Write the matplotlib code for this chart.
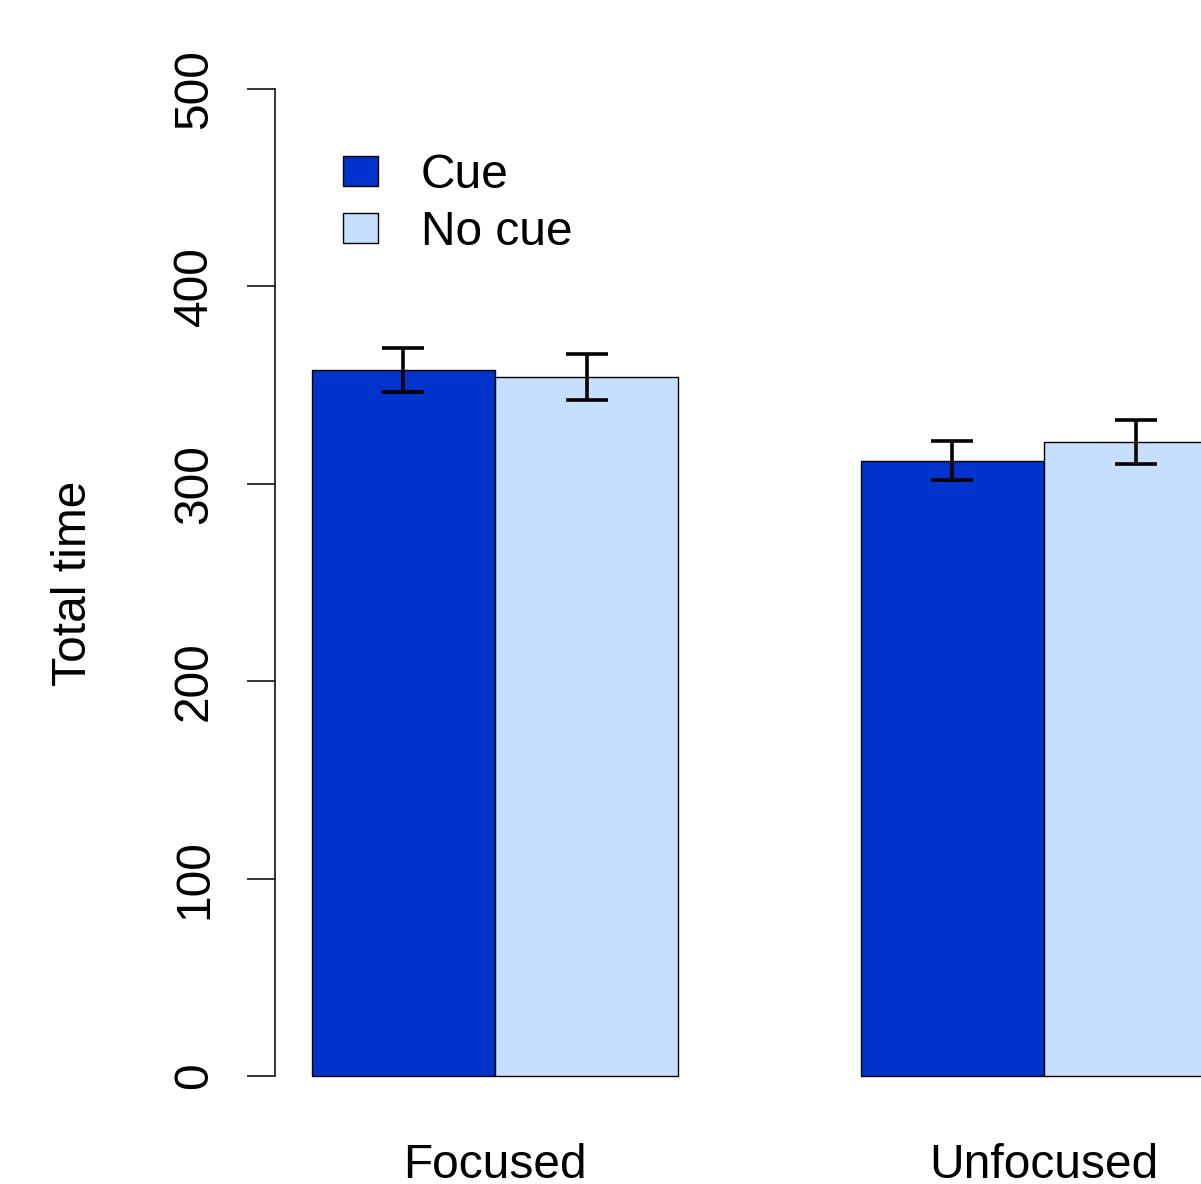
import matplotlib
matplotlib.use("Agg")
import matplotlib.pyplot as plt
from matplotlib.patches import Patch
from matplotlib.transforms import blended_transform_factory
import numpy as np

plt.rcParams['font.family'] = ['Liberation Sans', 'DejaVu Sans']

groups = ["Focused", "Unfocused"]
series = ["Cue", "No cue"]
cue_means = [357.7, 311.7]
cue_errs = [11.3, 9.8]
nocue_means = [354.1, 321.2]
nocue_errs = [11.6, 11.2]
colors = ["#0033CC", "#C5DFFC"]
yticks = [0, 100, 200, 300, 400, 500]

W, H = 1201, 1184
fig = plt.figure(figsize=(W / 100, H / 100), dpi=100)
ax = fig.add_axes([275.4 / W, 1 - 1115.5 / H, (1263.6 - 275.4) / W, (1115.5 - 49.5) / H])

fs = 34.5
# R barplot beside=TRUE, space=c(0,1): group g starts at 1 + 3*g
starts = np.array([1 + 3 * g for g in range(len(groups))], dtype=float)
for k, (means, errs) in enumerate([(cue_means, cue_errs), (nocue_means, nocue_errs)]):
    lefts = starts + k
    ax.bar(lefts, means, width=1.0, align='edge', color=colors[k],
           edgecolor='black', linewidth=1.0, label=series[k], zorder=2)
    ax.errorbar(lefts + 0.5, means, yerr=errs, fmt='none', ecolor='black',
                elinewidth=2.6, capsize=15, capthick=2.6, zorder=3)

ax.set_xlim(0.8, 6.2)
ax.set_ylim(-20, 520)
for s in ['top', 'right', 'bottom']:
    ax.spines[s].set_visible(False)
ax.spines['left'].set_bounds(0, 500)
ax.spines['left'].set_linewidth(1.1)
ax.set_xticks([])
ax.set_yticks(yticks)
ax.set_yticklabels([str(v) for v in yticks], rotation=90, va='center', fontsize=fs)
ax.tick_params(axis='y', length=20, width=1.1, pad=22)

trans = blended_transform_factory(ax.transData, fig.transFigure)
for g, name in enumerate(groups):
    ax.text(starts[g] + 1, 1 - 1178 / H, name, transform=trans, ha='center',
            va='baseline', fontsize=fs)

fig.text(73 / W, 1 - 583 / H, "Total time", rotation=90, ha='center', va='center', fontsize=fs)

handles = [Patch(facecolor=colors[i], edgecolor='black', linewidth=1.0) for i in range(2)]
ax.legend(handles, series, loc='upper left', bbox_to_anchor=(343 / W, 1 - 153 / H),
          bbox_transform=fig.transFigure, frameon=False, fontsize=fs,
          handlelength=0.74, handleheight=0.6, handletextpad=0.88,
          labelspacing=0.25, borderpad=0, borderaxespad=0)

fig.savefig("out.png", dpi=100)
